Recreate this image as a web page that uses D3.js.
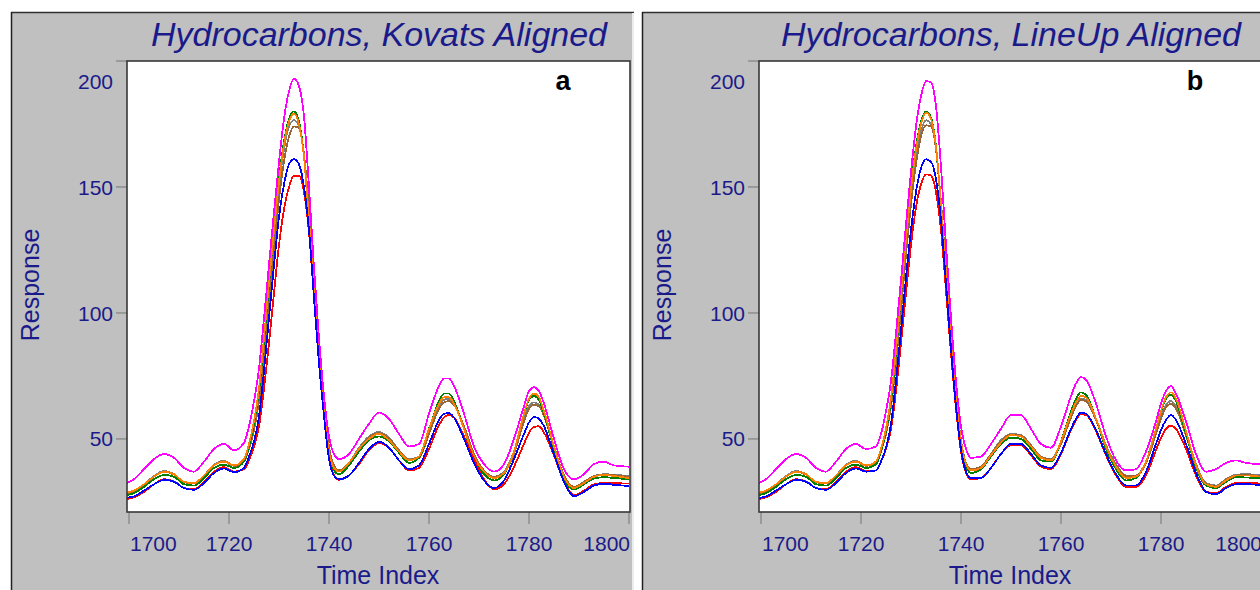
<!DOCTYPE html>
<html>
<head>
<meta charset="utf-8">
<script src="https://cdn.jsdelivr.net/npm/d3@7"></script>
<style>
  html, body { margin: 0; padding: 0; background: #ffffff; overflow: hidden; }
  svg { display: block; }
  text { font-family: "Liberation Sans", Arial, sans-serif; }
</style>
</head>
<body>
<svg id="chart" width="1260" height="590"></svg>
<script>
// Sample positions along the time axis (denser across the big peak)
const timeIndex = [1699,1701,1703,1705,1707,1709,1711,1713,1715,1717,1719,1721,
  1723,1724,1725,1726,1727,1728,1729,1730,1731,1732,1733,1734,1735,1736,1737,1738,1739,1740,1741,1742,
  1744,1746,1748,1750,1752,1754,1756,1758,1760,1762,
  1763,1764,1765,
  1767,1769,1771,1773,1775,1777,1779,
  1780,1781,1782,1783,
  1785,1787,1789,1791,1793,1795,1797,1800];

// Kovats aligned chromatograms
const kovatsMagenta = [32,34,38,42,44,42.5,38.5,37,41,46,48,45.5,
  48.5,55,65,78,98,119,140,160,177,188,193,190,178,150,118,90,67,51,44,42,
  44,50,56,60.5,58,52,47,48,60,71,
  74,74,71,
  60,47,40,37,40,50,63,
  69,70.5,69,64,
  50,38,34,36,40,41,39.5,39];
const kovatsGreen = [27.5,28.5,31,34,35.7,35,32,31.5,34.5,38.5,39.8,38.5,
  41,47,56,69,89,111,133,153,168,177,180,176,162,136,108,82,60,44,37.5,36,
  39.5,45,49.5,51,49,44.5,40.5,42.5,54,65,
  68,68,65,
  54,42,36,33.5,36,45,60,
  65.5,67,65.5,60,
  46,34,30,32,34.3,34.8,34.5,34];
const kovatsOrange = [28.5,29.5,32,35,37,36,33,32.5,35.5,39.5,41,39.5,
  42,48,57,70,90,112,133,152,167,176,179,175,162,137,110,84,62,45,38.5,37,
  40.5,46,50,52,49.5,45,41.5,43,54,64,
  66.5,66.5,64,
  54,43,37,34.5,36.5,45,60,
  66,68,66.5,61,
  47,35,30.5,32.5,35,35.7,35.3,34.4];
const kovatsGray = [28.3,29.3,32,35.3,37.3,36,33,32.5,35.5,39.8,41.3,39.5,
  41.5,47,55,68,87,109,130,150,165,174,176.5,174,162,138,111,85,63,46,39,37.3,
  40.5,46.5,51,52.7,50.5,45.5,42,43,53,63,
  65.5,66,64,
  55,44,37.5,35,37,45,58,
  63,64.5,63.5,59,
  47,35.5,31,33,35.3,36,35.8,35.2];
const kovatsBrown = [28,29,31.5,35,37,35.8,32.8,32.3,35.3,39.5,41,39.3,
  41,46,53.5,65,83,104,125,145,160,170,174,173.5,163,141,114,87,64,47,39.5,37.5,
  40.3,46,50.5,52.3,50,45.3,41.8,42.5,52,62,
  64.5,65,63.5,
  55,44,37.5,35,36.5,44,57,
  62,63.5,63,59,
  47,35.5,31,33,35.2,35.8,35.6,35];
const kovatsBlue = [26.5,27.2,29.5,32,33.7,33,30.5,29.8,32.5,36.5,38.3,36.8,
  38.5,43,49,59,77,98,119,138,151,159,161,159,150,133,106,80,59,42,35.5,34,
  35.5,40.5,46,48.9,46.5,41.5,38,39.5,48,57.5,
  60,60.2,58.5,
  50,40.5,33.5,30.5,33.5,42,52,
  56.5,58.7,58,55,
  44,33,27.3,29,31.5,32.2,31.8,31.3];
const kovatsRed = [26,26.8,29,32,34,33.2,30.5,30,32.8,37,38.8,37,
  38,41.5,47,55,70,88,108,127,141,150,154.5,154.5,148,132,106,80,59,42.5,35.5,33.8,
  35.5,40,45.5,48.3,46.5,41.5,37.5,38.5,46,55.5,
  58.5,59.5,58.5,
  51,42,34,30,32,39,48,
  52.5,54.8,55,52.5,
  43.5,33,27.7,29.5,32,32.5,32.4,32.3];

// LineUp aligned chromatograms
const lineupMagenta = [32,34,38,42,44,42.5,38.5,37,41,46,48,46,
  47,52,61,73,92,113,135,156,174,186,192,191.5,182,158,127,98,73,55,46,42.5,
  43,48,54,59.5,59.5,54,48,46.5,55,67,
  72,74.5,73.5,
  64,51,41.5,37.5,38,45,57,
  64,69,71,68,
  57,44,37,38,40.5,41.5,40.5,40];
const lineupGreen = [27.5,28.5,31,34,35.7,35,32,31.5,34.5,38.5,39.8,38.5,
  40,45,53,65,84,107,129,150,166,176,180,177.5,166,142,114,87,64,47,39,36.5,
  38,43,48,50.5,50,46,41.5,41,49,61,
  66,68.5,67.5,
  58,46,38,33.5,34.5,41,54,
  61,66,67.5,65,
  52,38.5,31.5,30.5,33,34.8,34.7,34.3];
const lineupOrange = [28.5,29.5,32,35,37,36,33,32.5,35.5,39.5,41,39.5,
  41,46,54,66,85,107,129,149,165,175,179.5,177,166,143,116,89,66,49,40,37.5,
  38.5,43.5,48.5,51.5,51,47,42.5,41.5,49,60,
  64.5,67,66.5,
  58,47,39,34.5,35,41,54,
  61,66.5,68.5,66,
  53,39.5,32,31,33.5,35.5,35.5,35];
const lineupGray = [28.3,29.3,32,35.3,37.3,36,33,32.5,35.5,39.8,41.3,39.5,
  40.5,45,52.5,64,82,104,126,146,162,172,176.5,175,165,143,116,89,66,49,40.5,38,
  39,44,49.5,52,51.5,47.5,43,42,48.5,59,
  63.5,66,65.5,
  58,47.5,40,35.5,35.5,41,52.5,
  59,63.5,65,63,
  52,40,32.5,31.5,34,35.8,36,35.5];
const lineupBrown = [28,29,31.5,35,37,35.8,32.8,32.3,35.3,39.5,41,39.3,
  40.5,45,52,63,80,101,123,143,159,170,174.5,174,165,144,117,90,67,49.5,40.5,38,
  39,44,49,51.8,51.3,47.3,42.8,41.8,48,58.5,
  63,65.5,65,
  57.5,47,39.5,35.3,35.3,40.5,52,
  58,62.5,64,62,
  51.5,39.5,32.3,31.3,33.8,35.5,35.7,35.2];
const lineupBlue = [26.5,27.2,29.5,32,33.7,33,30.5,29.8,32.5,36.5,38.3,37,
  37.5,41,46.5,56,73,93,114,133,148,157.5,161,160,153,137,112,86,63,46,37,34.5,
  34.5,38.5,44,48,48,44,39.5,38.5,44.5,54,
  58,60.5,60,
  53.5,44,36,31.5,31.5,37,48,
  53.5,57.5,59.5,57.5,
  48,36.5,29,28,30.5,32,32,31.7];
const lineupRed = [26,26.8,29,32,34,33.2,30.5,30,32.8,37,38.8,37.3,
  37.5,41,46,54,69,88,108,127,142,151,155,154.5,148,133,109,84,62,45,36.5,34,
  34.5,38.5,44,47.5,47.5,43.5,39,38,44,53.5,
  57.5,59.8,59.5,
  53,43.5,35.5,31,31,35.5,45.5,
  50.5,54,55.3,54,
  46,35.5,29,28.5,31,32.5,32.5,32.3];

const xTicks = [1700, 1720, 1740, 1760, 1780, 1800];
const yTicks = [50, 100, 150, 200];
const lineColors = { gray: "#808080", brown: "#996633", green: "#008000", orange: "#ff8000",
                     red: "#ff0000", blue: "#0000ff", magenta: "#ff00ff" };

const panels = [
  { title: "Hydrocarbons, Kovats Aligned", tag: "a", frame: 0, offset: 0,
    series: [["gray", kovatsGray], ["brown", kovatsBrown], ["green", kovatsGreen], ["orange", kovatsOrange],
             ["red", kovatsRed], ["blue", kovatsBlue], ["magenta", kovatsMagenta]] },
  { title: "Hydrocarbons, LineUp Aligned", tag: "b", frame: 631, offset: 632,
    series: [["gray", lineupGray], ["brown", lineupBrown], ["green", lineupGreen], ["orange", lineupOrange],
             ["red", lineupRed], ["blue", lineupBlue], ["magenta", lineupMagenta]] }
];

const svg = d3.select("#chart");
const ink = "#1a1a8a";
const plot = { left: 127, top: 61, right: 630, bottom: 512 };

const x = d3.scaleLinear().domain([1699.6, 1800.2]).range([plot.left, plot.right]);
const y = d3.scaleLinear().domain([21, 200]).range([plot.bottom, plot.top]);

panels.forEach((p, i) => {
  // window frame
  const f = svg.append("g").attr("transform", `translate(${p.frame},0)`);
  f.append("rect").attr("x", 11).attr("y", 12).attr("width", 623).attr("height", 600).attr("fill", "#c0c0c0");
  f.append("line").attr("x1", 11).attr("x2", 634).attr("y1", 12.5).attr("y2", 12.5)
    .attr("stroke", "#303030").attr("stroke-width", 1.5);
  f.append("line").attr("x1", 11.5).attr("x2", 11.5).attr("y1", 12).attr("y2", 600)
    .attr("stroke", "#202020").attr("stroke-width", 1.5);
  f.append("line").attr("x1", 633).attr("x2", 633).attr("y1", 13).attr("y2", 600)
    .attr("stroke", "#ececec").attr("stroke-width", 2);

  const g = svg.append("g").attr("transform", `translate(${p.offset},0)`);

  // title
  g.append("text").attr("x", 379).attr("y", 46).attr("text-anchor", "middle")
    .attr("font-size", 34).attr("font-style", "italic").attr("fill", ink).text(p.title);

  // plotting area
  const clipId = "clip" + i;
  g.append("clipPath").attr("id", clipId).append("rect")
    .attr("x", plot.left).attr("y", plot.top)
    .attr("width", plot.right - plot.left).attr("height", plot.bottom - plot.top);
  g.append("rect").attr("x", plot.left).attr("y", plot.top)
    .attr("width", plot.right - plot.left).attr("height", plot.bottom - plot.top).attr("fill", "#ffffff");

  // y axis ticks and labels
  yTicks.forEach(v => {
    const ty = y(v);
    g.append("line").attr("x1", plot.left - 11).attr("x2", plot.left).attr("y1", ty).attr("y2", ty)
      .attr("stroke", "#808080").attr("stroke-width", 1.2);
    g.append("text").attr("x", 113).attr("y", Math.max(ty, plot.top + 20)).attr("dy", "0.36em")
      .attr("text-anchor", "end").attr("font-size", 21).attr("fill", ink).text(v);
  });

  // x axis ticks and labels
  xTicks.forEach(v => {
    const tx = x(v);
    g.append("line").attr("x1", tx).attr("x2", tx).attr("y1", plot.bottom).attr("y2", plot.bottom + 12)
      .attr("stroke", "#808080").attr("stroke-width", 1.2);
    const t = g.append("text").attr("y", 551).attr("text-anchor", "middle")
      .attr("font-size", 21).attr("fill", ink).text(v);
    const w = t.node().getComputedTextLength();
    t.attr("x", Math.min(Math.max(tx, plot.left + w / 2 + 3), plot.right - w / 2));
  });

  // axis titles
  g.append("text").attr("transform", "translate(30,285) rotate(-90)").attr("text-anchor", "middle")
    .attr("dy", "0.36em").attr("font-size", 25).attr("fill", ink).text("Response");
  g.append("text").attr("x", 378).attr("y", 584).attr("text-anchor", "middle")
    .attr("font-size", 25).attr("fill", ink).text("Time Index");

  // chromatogram traces
  const line = d3.line().x((d, k) => x(timeIndex[k])).y(d => y(d)).curve(d3.curveMonotoneX);
  const traces = g.append("g").attr("clip-path", `url(#${clipId})`);
  p.series.forEach(([name, vals]) => {
    traces.append("path").attr("d", line(vals)).attr("fill", "none")
      .attr("stroke", lineColors[name]).attr("stroke-width", 1.8)
      .attr("shape-rendering", "crispEdges");
  });

  // plot border
  g.append("rect").attr("x", plot.left).attr("y", plot.top)
    .attr("width", plot.right - plot.left).attr("height", plot.bottom - plot.top)
    .attr("fill", "none").attr("stroke", "#383838").attr("stroke-width", 1.6);

  // panel tag
  g.append("text").attr("x", 563).attr("y", 90).attr("text-anchor", "middle")
    .attr("font-size", 27).attr("font-weight", "bold").attr("fill", "#000").text(p.tag);
});
</script>
</body>
</html>
